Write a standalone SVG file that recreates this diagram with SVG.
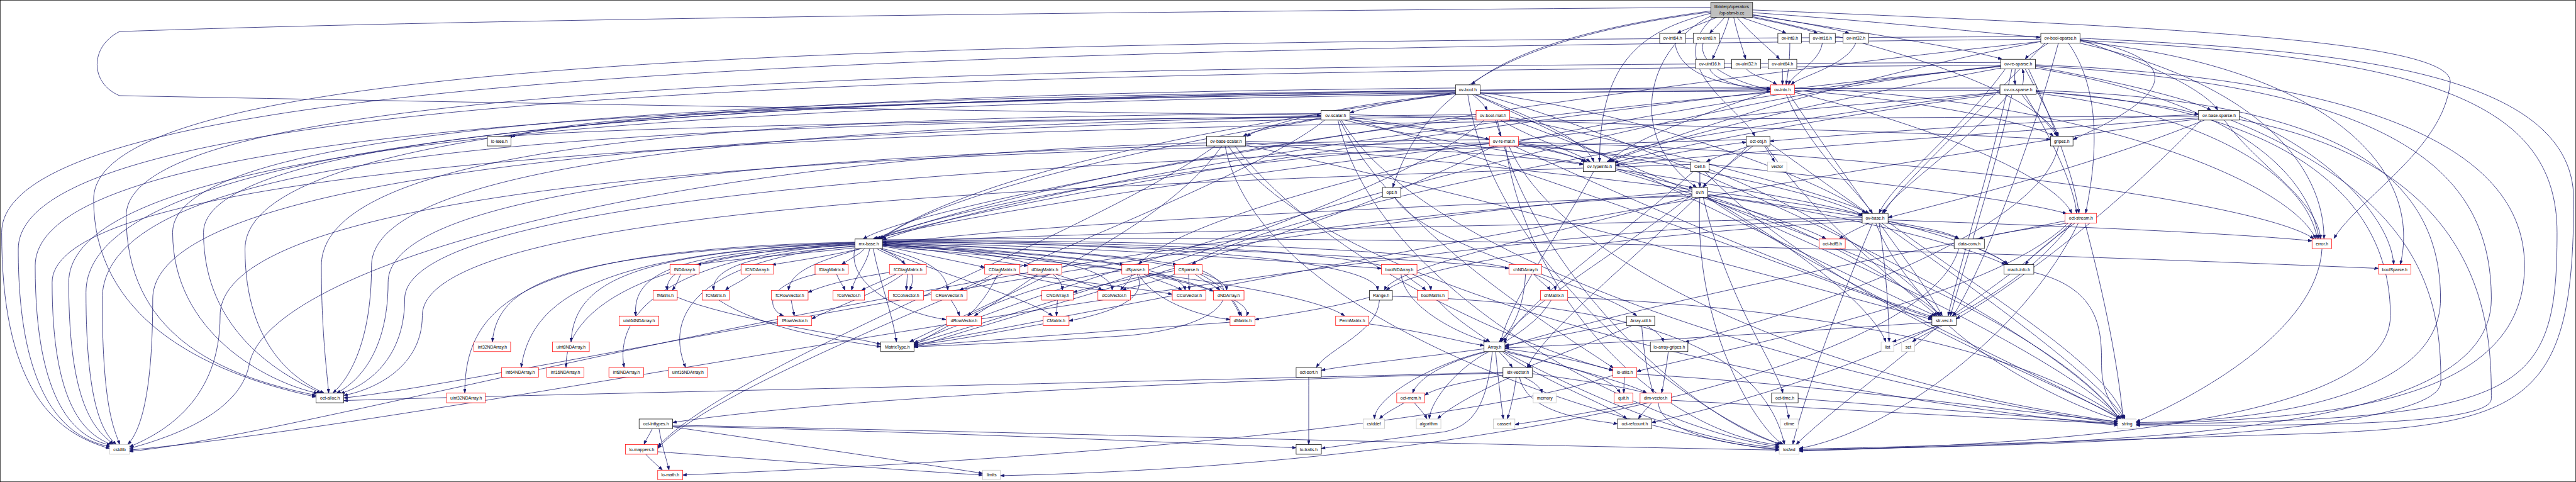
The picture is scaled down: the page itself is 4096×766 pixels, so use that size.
<svg xmlns="http://www.w3.org/2000/svg" width="4096" height="766" viewBox="0 0 4096 766">
<style>
.e path{fill:none;stroke:#191970;stroke-width:1.5;marker-end:url(#ah)}
rect{fill:#fff;stroke:#000;stroke-width:1.4}
.r rect{stroke:#f00}
.g rect{stroke:#bfbfbf}
.root rect{fill:#bfbfbf}
text{font-family:"Liberation Sans",Arial,Helvetica,sans-serif;font-size:13px;text-anchor:middle;fill:#000}
</style>
<defs>
<marker id="ah" viewBox="0 0 12 9" refX="12" refY="4.5" markerWidth="12" markerHeight="9" markerUnits="userSpaceOnUse" orient="auto"><path d="M0,0 L12,4.5 L0,9 z" fill="#191970" stroke="#191970"/></marker>
</defs>
<rect x="0" y="0" width="4096" height="766" fill="#fff" stroke="none"/>
<g transform="scale(0.5279)">
<g id="connectors" class="e">
<path d="M5172,52 C5130,70 5075,88 5052,100"/>
<path d="M5195,52 C5180,70 5160,88 5150,100"/>
<path d="M5208,52 C5195,100 5170,150 5158,178"/>
<path d="M5222,52 C5232,100 5250,150 5258,178"/>
<path d="M5232,52 C5270,100 5335,150 5360,178"/>
<path d="M5245,52 C5300,72 5355,88 5380,100"/>
<path d="M5262,50 C5360,68 5440,88 5475,100"/>
<path d="M5274,45 C5400,62 5520,85 5570,100"/>
<path d="M5279,38 C5600,60 5950,95 6145,113"/>
<path d="M5279,44 C5550,90 5900,140 6030,178"/>
<path d="M5279,50 C5800,160 6150,300 6198,410"/>
<path d="M5160,52 C5000,200 5250,330 5285,410"/>
<path d="M5153,33 C4800,80 4560,150 4432,255"/>
<path d="M5153,22 C3500,35 1500,55 360,95 C270,140 270,250 360,288 C1500,310 3000,335 3979,347"/>
<path d="M5153,40 C4950,90 4818,180 4818,487"/>
<path d="M5153,48 C4950,150 4900,420 5110,564"/>
<path d="M5153,36 C4500,120 4280,300 4195,564"/>
<path d="M5279,30 C6500,80 7400,120 7380,250 C7360,450 7100,600 7030,718"/>
<path d="M5391,129.5 C5391,190 5385,220 5380,255"/>
<path d="M5489,129.5 C5480,190 5400,220 5387,255"/>
<path d="M5590,129.5 C5560,200 5420,230 5395,255"/>
<path d="M5260,207.5 C5280,230 5330,240 5352,255"/>
<path d="M5369,207.5 C5369,225 5369,240 5369,255"/>
<path d="M5045,129.5 C5060,230 5200,260 5333,266"/>
<path d="M5130,129.5 C5110,200 5250,255 5333,270"/>
<path d="M5150,207.5 C5160,240 5250,265 5333,276"/>
<path d="M6147,118 C3000,150 5,200 5,700 C5,1150 150,1300 330,1350"/>
<path d="M6026,196 C3000,220 55,250 55,750 C55,1200 200,1320 332,1345"/>
<path d="M6024,272 C3000,280 106,300 106,800 C106,1220 230,1320 334,1340"/>
<path d="M6622,350 C4000,360 157,380 157,850 C157,1230 260,1310 338,1339"/>
<path d="M5333,270 C3000,300 207,330 207,850 C207,1250 300,1300 342,1338"/>
<path d="M4384,275 C2500,300 259,360 259,880 C259,1250 320,1310 350,1338"/>
<path d="M3979,350 C2000,380 308,420 308,900 C308,1250 350,1300 360,1338"/>
<path d="M4446,350 C2500,380 460,480 460,900 C460,1200 420,1300 385,1338"/>
<path d="M4486,430 C2500,450 663,560 663,950 C663,1200 500,1300 390,1345"/>
<path d="M3634,430 C2000,470 800,800 750,1100 C720,1250 500,1320 390,1350"/>
<path d="M5609,660 C4000,700 1500,1250 390,1355"/>
<path d="M5096,585 C3000,700 1000,1300 390,1359"/>
<path d="M6147,110 C3000,125 282,140 282,600 C282,950 600,1120 952,1195"/>
<path d="M6026,188 C3000,200 380,230 380,650 C380,1000 650,1130 952,1190"/>
<path d="M6024,265 C3200,270 520,290 520,700 C520,1000 800,1150 957,1184"/>
<path d="M5333,262 C3200,280 613,320 613,700 C613,1000 850,1130 966,1183"/>
<path d="M4384,265 C2800,280 738,330 738,750 C738,1050 900,1150 976,1183"/>
<path d="M3979,342 C2500,350 968,400 968,800 C968,1000 985,1120 990,1183"/>
<path d="M4446,345 C3000,360 1119,420 1119,800 C1119,1050 1040,1150 1003,1183"/>
<path d="M4486,420 C3000,440 1169,500 1169,850 C1169,1080 1060,1160 1014,1183"/>
<path d="M5260,420 C3500,470 1219,560 1219,900 C1219,1100 1080,1170 1026,1184"/>
<path d="M5092,495 C3500,550 1272,600 1272,950 C1272,1120 1100,1180 1035,1190"/>
<path d="M5096,575 C3500,700 1500,1150 1035,1198"/>
<path d="M4527,1121 C3000,1160 1500,1190 1035,1206"/>
<path d="M4384,278 C3000,300 1800,330 1539,412"/>
<path d="M3979,352 C3000,360 1800,385 1530,411"/>
<path d="M4384,282 C3500,400 2900,550 2650,719"/>
<path d="M3979,355 C3400,450 2800,600 2655,720"/>
<path d="M4446,355 C3600,450 2900,620 2640,719"/>
<path d="M4486,433 C3600,480 2900,620 2630,719"/>
<path d="M5333,278 C4000,400 3000,600 2658,722"/>
<path d="M6026,200 C4500,350 3000,600 2645,719"/>
<path d="M6024,278 C4500,400 3000,620 2635,719"/>
<path d="M6147,125 C4500,300 2800,600 2600,719"/>
<path d="M5609,655 C4500,680 3200,700 2658,730"/>
<path d="M5096,590 C4200,620 3000,680 2658,738"/>
<path d="M2585,745 C2400,765 2200,780 2100,797"/>
<path d="M2595,748 C2500,770 2400,785 2325,797"/>
<path d="M2605,748 C2590,765 2560,780 2535,796"/>
<path d="M2575,737 C2200,760 2000,790 2010,874"/>
<path d="M2578,742 C2300,760 2140,800 2150,874"/>
<path d="M2595,748 C2450,790 2380,820 2375,874"/>
<path d="M2620,748 C2610,800 2575,830 2565,874"/>
<path d="M2575,735 C2100,760 1900,800 1915,951"/>
<path d="M2575,730 C1700,760 1500,850 1483,1029"/>
<path d="M2575,732 C1900,760 1730,850 1720,1029"/>
<path d="M2575,731 C1800,760 1600,900 1570,1106"/>
<path d="M2575,733 C1900,770 1700,950 1705,1106"/>
<path d="M2575,736 C2000,770 1850,950 1880,1106"/>
<path d="M2578,740 C2100,780 2000,950 2065,1106"/>
<path d="M2575,729 C1600,750 1400,900 1400,1183"/>
<path d="M2630,748 C2650,850 2690,950 2700,1029"/>
<path d="M2640,748 C2680,770 2715,780 2725,796"/>
<path d="M2650,748 C2750,790 2760,830 2740,874"/>
<path d="M2655,748 C2800,780 2850,820 2855,874"/>
<path d="M2658,740 C2800,770 2900,790 2966,805"/>
<path d="M2658,738 C2900,760 3000,790 3096,800"/>
<path d="M2650,748 C2850,830 3100,900 3170,951"/>
<path d="M2575,748 C2550,850 2700,940 2849,962"/>
<path d="M2658,735 C3000,760 3200,790 3200,874"/>
<path d="M2658,736 C3100,760 3350,800 3350,874"/>
<path d="M2658,733 C3000,750 3300,780 3385,797"/>
<path d="M2658,731 C3100,745 3450,775 3545,797"/>
<path d="M2658,737 C3300,770 3560,810 3570,874"/>
<path d="M2658,734 C3300,750 3690,800 3695,874"/>
<path d="M2658,739 C3400,780 3780,880 3755,951"/>
<path d="M2658,730 C3300,740 3900,790 4161,808"/>
<path d="M2658,728 C3500,735 4300,780 4545,808"/>
<path d="M2658,726 C3600,730 4300,760 4310,874"/>
<path d="M2658,724 C3800,725 4680,760 4685,874"/>
<path d="M2658,727 C3500,735 4140,780 4150,874"/>
<path d="M2658,742 C3400,800 3950,880 4050,951"/>
<path d="M2658,722 C4500,700 6500,780 7164,808"/>
<path d="M2050,825.5 C2040,850 2035,860 2025,874"/>
<path d="M2262,825.5 C2230,850 2200,860 2185,874"/>
<path d="M2520,825.5 C2530,850 2540,860 2545,874"/>
<path d="M2460,825 C2300,860 2310,930 2360,951"/>
<path d="M2383,903.5 C2386,920 2390,935 2392,951"/>
<path d="M2733,825.5 C2732,845 2731,855 2730,874"/>
<path d="M2679,820 C2550,840 2480,860 2434,880"/>
<path d="M2700,825 C2650,850 2620,860 2595,874"/>
<path d="M2720,825 C2650,880 2500,930 2445,960"/>
<path d="M2990,825.5 C2950,850 2920,860 2890,874"/>
<path d="M3005,825.5 C2980,880 2950,920 2915,951"/>
<path d="M3060,825.5 C3150,850 3280,870 3330,875"/>
<path d="M3070,822 C3250,850 3450,870 3531,886"/>
<path d="M3125,825.5 C3050,880 2980,920 2935,951"/>
<path d="M3180,825.5 C3250,850 3300,860 3320,874"/>
<path d="M2865,903.5 C2875,920 2885,935 2890,951"/>
<path d="M3185,903.5 C3184,920 3183,935 3182,951"/>
<path d="M3410,825.5 C3400,850 3385,860 3375,874"/>
<path d="M3445,825.5 C3500,850 3540,860 3560,874"/>
<path d="M3455,822 C3550,840 3620,860 3655,877"/>
<path d="M3430,825.5 C3470,900 3600,950 3705,962"/>
<path d="M3425,825 C3460,900 3350,940 3220,966"/>
<path d="M3379,815 C3100,850 2900,950 2753,1040"/>
<path d="M3580,825.5 C3581,850 3582,860 3582,874"/>
<path d="M3600,825.5 C3630,850 3660,860 3675,874"/>
<path d="M3615,825.5 C3700,870 3720,910 3740,951"/>
<path d="M3540,825 C3480,850 3420,860 3380,874"/>
<path d="M3538,815 C3400,840 3300,860 3233,880"/>
<path d="M3621,815 C3750,870 3700,980 3400,1010 C3100,1030 2850,1040 2753,1044"/>
<path d="M3710,903.5 C3720,920 3730,935 3735,951"/>
<path d="M3705,970 C3300,1000 2900,1030 2753,1042"/>
<path d="M3142,975 C3000,1000 2850,1030 2753,1038"/>
<path d="M2040,895 C2200,960 2500,1000 2653,1036"/>
<path d="M2165,903.5 C2300,990 2500,1020 2653,1044"/>
<path d="M4125,895 C4000,930 3850,950 3780,962"/>
<path d="M4155,903.5 C4150,1000 4000,1050 3965,1106"/>
<path d="M4194,892 C4800,910 5300,1000 5375,1338"/>
<path d="M4123,975 C4300,1000 4400,1030 4470,1040"/>
<path d="M4230,825.5 C4260,850 4280,860 4295,874"/>
<path d="M4220,825.5 C4230,920 4380,1000 4480,1029"/>
<path d="M4330,903.5 C4380,960 4450,1000 4487,1029"/>
<path d="M4620,825.5 C4640,850 4660,860 4670,874"/>
<path d="M4595,825.5 C4590,920 4560,990 4515,1029"/>
<path d="M4672,903.5 C4640,960 4580,1000 4527,1033"/>
<path d="M4722,895 C5500,930 6100,1050 6390,1262"/>
<path d="M4899,970 C4750,1000 4620,1025 4533,1040"/>
<path d="M4915,980.5 C4800,1030 4660,1080 4600,1106"/>
<path d="M4960,980.5 C4990,1000 5005,1010 5010,1029"/>
<path d="M4945,980.5 C4950,1050 4960,1120 4980,1183"/>
<path d="M5025,1058.5 C5020,1100 5012,1150 5005,1183"/>
<path d="M6200,439.5 C6150,700 5400,950 5075,1030"/>
<path d="M4200,593.5 C4300,750 4800,850 4930,951"/>
<path d="M4470,1050 C4250,1080 4050,1100 3980,1115"/>
<path d="M4515,1058.5 C4530,1075 4545,1090 4555,1106"/>
<path d="M4480,1058.5 C4350,1090 4270,1140 4255,1183"/>
<path d="M4475,1058 C4300,1100 4140,1200 4140,1261"/>
<path d="M4485,1058.5 C4400,1100 4310,1200 4305,1261"/>
<path d="M4505,1058.5 C4510,1120 4520,1200 4528,1261"/>
<path d="M4533,1050 C4700,1070 4800,1100 4860,1115"/>
<path d="M4530,1058 C4700,1100 4850,1130 4880,1183"/>
<path d="M4533,1055 C4700,1100 4900,1150 4960,1183"/>
<path d="M4525,1058.5 C4650,1150 4850,1220 4900,1261"/>
<path d="M4495,1058.5 C4480,1200 4450,1280 4350,1300 C4200,1320 4050,1340 3980,1350"/>
<path d="M4533,1060 C4800,1200 5100,1330 5359,1348"/>
<path d="M4527,1130 C4400,1150 4320,1170 4291,1190"/>
<path d="M4550,1135.5 C4450,1180 4360,1230 4330,1261"/>
<path d="M4567,1135.5 C4560,1190 4550,1230 4540,1261"/>
<path d="M4590,1135.5 C4620,1150 4640,1165 4645,1183"/>
<path d="M4616,1125 C4800,1150 4920,1170 4960,1185"/>
<path d="M4577,1135.5 C4600,1250 4800,1265 4872,1276"/>
<path d="M4527,1123 C3500,1150 2500,1200 2026,1272"/>
<path d="M4893,1135.5 C4892,1150 4891,1165 4891,1183"/>
<path d="M4930,1126 C5500,1160 6000,1230 6379,1270"/>
<path d="M4975,1212.5 C4960,1230 4945,1245 4935,1261"/>
<path d="M4950,1210 C4800,1240 4650,1265 4563,1278"/>
<path d="M4995,1212.5 C5000,1300 5200,1340 5359,1352"/>
<path d="M5034,1205 C5500,1230 6000,1260 6379,1275"/>
<path d="M4230,1212.5 C4200,1230 4170,1245 4155,1261"/>
<path d="M4260,1212.5 C4275,1230 4290,1245 4298,1261"/>
<path d="M3942,1135.5 C3942,1200 3942,1280 3942,1338"/>
<path d="M1965,1290.5 C1955,1310 1945,1325 1940,1338"/>
<path d="M1985,1290.5 C1995,1350 2010,1390 2015,1415"/>
<path d="M2026,1285 C2400,1340 2800,1400 2960,1425"/>
<path d="M2026,1280 C3000,1300 4500,1340 5359,1355"/>
<path d="M2026,1283 C2800,1300 3500,1330 3904,1348"/>
<path d="M1945,1367.5 C1960,1385 1980,1400 1995,1415"/>
<path d="M1981,1360 C2400,1390 2700,1415 2960,1430"/>
<path d="M4858,1130 C4500,1250 3500,1370 2056,1430"/>
<path d="M5900,748.5 C5800,1100 4500,1400 3013,1432"/>
<path d="M4435,284.5 C4455,300 4470,315 4480,332"/>
<path d="M4384,278 C4250,300 4120,320 4066,340"/>
<path d="M4384,282 C4000,320 3800,380 3755,411"/>
<path d="M4445,284.5 C4600,350 4780,420 4800,487"/>
<path d="M4458,278 C5000,350 5500,550 5620,642"/>
<path d="M4440,284 C4700,400 5500,800 5830,951"/>
<path d="M4458,282 C5200,500 6200,1000 6385,1262"/>
<path d="M4421,284.5 C4500,800 5100,1250 5365,1338"/>
<path d="M4066,352 C4250,380 4420,400 4486,420"/>
<path d="M3990,355 C3850,380 3770,395 3745,410"/>
<path d="M4066,360 C4400,400 4700,450 4780,487"/>
<path d="M4050,361.5 C4400,450 5300,560 5615,648"/>
<path d="M4066,345 C5000,380 5900,400 6176,420"/>
<path d="M3990,361.5 C3700,600 2200,1100 1981,1350"/>
<path d="M4035,361.5 C4200,700 4700,1000 4860,1108"/>
<path d="M4066,358 C4600,500 5500,850 5820,958"/>
<path d="M4040,361.5 C4300,800 5500,1150 6380,1275"/>
<path d="M4030,361.5 C4150,900 5000,1300 5360,1345"/>
<path d="M4505,361.5 C4510,380 4515,395 4520,410"/>
<path d="M4547,352 C5000,450 5500,580 5630,642"/>
<path d="M4520,361.5 C4620,420 4750,460 4790,487"/>
<path d="M4470,361.5 C4200,600 3200,900 2753,1035"/>
<path d="M4547,358 C5200,600 6200,1050 6388,1262"/>
<path d="M4510,361.5 C4600,800 5100,1270 5368,1338"/>
<path d="M4574,432 C4680,450 4740,470 4775,487"/>
<path d="M4574,430 C5000,480 5500,580 5615,650"/>
<path d="M4500,439.5 C4000,700 3200,900 2753,1046"/>
<path d="M4560,439.5 C4900,600 5500,850 5825,955"/>
<path d="M4574,428 C5600,450 6800,600 6970,719"/>
<path d="M4574,435 C5200,500 6000,580 6225,643"/>
<path d="M4545,439.5 C4700,800 5500,1150 6380,1270"/>
<path d="M4535,439.5 C4600,900 5000,1300 5360,1340"/>
<path d="M3752,430 C4300,480 5300,580 5610,648"/>
<path d="M3752,425 C4200,440 4600,470 4769,495"/>
<path d="M3680,439.5 C3500,700 3000,900 2740,1029"/>
<path d="M3660,439.5 C3300,700 2200,1100 1981,1345"/>
<path d="M3720,439.5 C4000,800 4600,1050 4858,1115"/>
<path d="M3752,437 C4500,600 5400,850 5820,962"/>
<path d="M3700,439.5 C4000,900 5500,1200 6380,1280"/>
<path d="M3690,439.5 C3800,1000 5000,1320 5360,1355"/>
<path d="M4866,508 C4950,530 5050,555 5100,566"/>
<path d="M4866,495 C5000,470 5150,440 5260,428"/>
<path d="M4800,516.5 C4700,700 4550,900 4520,1029"/>
<path d="M4866,512 C5500,700 6200,1000 6385,1262"/>
<path d="M5120,516.5 C5120,530 5120,545 5120,564"/>
<path d="M5100,516.5 C4900,700 4600,900 4530,1029"/>
<path d="M5148,510 C5500,650 5780,850 5840,951"/>
<path d="M5135,516.5 C5500,900 6200,1150 6390,1262"/>
<path d="M5315,439.5 C5325,455 5335,470 5345,487"/>
<path d="M5270,439.5 C5210,460 5160,475 5140,487"/>
<path d="M5280,439.5 C5200,500 5150,540 5130,564"/>
<path d="M5320,439.5 C5500,700 5780,900 5835,951"/>
<path d="M5265,439.5 C5000,700 4600,900 4522,1029"/>
<path d="M5331,432 C5700,700 6300,1100 6400,1261"/>
<path d="M5096,590 C4700,700 4200,800 4170,874"/>
<path d="M5110,593.5 C4900,800 4650,1000 4600,1106"/>
<path d="M5144,590 C5500,700 5800,900 5845,951"/>
<path d="M5130,593.5 C5200,900 5350,1100 5370,1183"/>
<path d="M5144,585 C5500,640 5850,680 5900,719"/>
<path d="M5144,588 C5600,650 5950,750 6040,797"/>
<path d="M5135,593.5 C5300,640 5450,690 5500,719"/>
<path d="M5140,593.5 C5600,900 6200,1150 6385,1262"/>
<path d="M5120,593.5 C5100,1000 5300,1300 5372,1338"/>
<path d="M5144,593 C5500,800 5650,950 5680,1029"/>
<path d="M5609,665 C5000,700 4300,780 4175,874"/>
<path d="M5680,671.5 C5800,690 5870,705 5900,719"/>
<path d="M5630,671.5 C5590,690 5560,705 5540,719"/>
<path d="M5650,671.5 C5700,800 5800,900 5845,951"/>
<path d="M5687,662 C6200,680 6700,700 6964,725"/>
<path d="M5660,671.5 C5680,800 5690,950 5690,1029"/>
<path d="M5687,668 C6000,900 6350,1100 6400,1261"/>
<path d="M5640,671.5 C5500,1000 5420,1250 5400,1338"/>
<path d="M5687,666 C5900,720 6000,760 6050,797"/>
<path d="M6230,671.5 C6100,690 6000,705 5960,719"/>
<path d="M6250,671.5 C6180,720 6120,770 6100,797"/>
<path d="M6240,671.5 C6100,800 5950,900 5880,951"/>
<path d="M6220,665 C5800,750 5000,900 4533,1044"/>
<path d="M6230,671.5 C6000,900 5200,1050 4930,1118"/>
<path d="M6240,671.5 C6000,1000 5300,1200 4975,1272"/>
<path d="M6280,671.5 C6340,900 6380,1100 6395,1261"/>
<path d="M6260,671.5 C6100,1000 5700,1300 5419,1350"/>
<path d="M5960,748.5 C6000,765 6030,780 6045,796"/>
<path d="M6126,820 C6330,870 6330,1000 6330,1100 C6330,1200 6380,1240 6395,1261"/>
<path d="M5840,980.5 C5780,1000 5730,1020 5700,1029"/>
<path d="M5850,980.5 C5810,1000 5780,1015 5760,1029"/>
<path d="M5870,980.5 C6000,1100 6250,1230 6385,1265"/>
<path d="M5840,980.5 C5700,1100 5500,1250 5410,1338"/>
<path d="M5819,970 C5400,1000 4900,1030 4533,1048"/>
<path d="M5378,1212.5 C5382,1230 5386,1245 5388,1261"/>
<path d="M5416,1200 C5800,1230 6200,1260 6379,1276"/>
<path d="M6994,748.5 C6980,1000 6600,1200 6434,1270"/>
<path d="M6700,361.5 C6800,500 6980,600 6990,719"/>
<path d="M6745,350 C7000,450 7200,650 7210,796"/>
<path d="M6630,361.5 C6300,700 6000,900 5892,960"/>
<path d="M6622,345 C6200,360 5600,400 5331,425"/>
<path d="M6640,361.5 C6300,500 5900,600 5687,655"/>
<path d="M6622,355 C6000,400 5200,460 4866,498"/>
<path d="M6622,358 C5500,500 3500,900 2753,1038"/>
<path d="M6745,360 C7500,500 7504,1000 7504,1200 C7504,1290 6800,1280 6434,1280"/>
<path d="M6720,361.5 C7300,600 7352,900 7352,1150 C7352,1320 6000,1345 5419,1353"/>
<path d="M6070,207.5 C6068,225 6068,240 6070,255"/>
<path d="M6092,255.5 C6096,240 6096,225 6092,208"/>
<path d="M6131,200 C6400,250 6600,300 6660,332"/>
<path d="M6133,275 C6400,300 6550,320 6622,345"/>
<path d="M6265,120 C6500,200 6650,280 6680,332"/>
<path d="M6170,129.5 C6140,150 6110,165 6100,178"/>
<path d="M6265,125 C7000,200 7300,500 7230,796"/>
<path d="M6026,200 C5000,300 3600,600 3430,796"/>
<path d="M6024,278 C5000,400 3800,650 3590,796"/>
<path d="M6100,207.5 C6150,300 6190,380 6200,410"/>
<path d="M6090,284.5 C6120,330 6180,380 6195,410"/>
<path d="M6265,118 C6700,200 6400,350 6244,420"/>
<path d="M6040,207.5 C5900,400 5700,550 5660,642"/>
<path d="M6050,284.5 C5900,450 5700,580 5670,642"/>
<path d="M6160,129.5 C5900,400 5700,580 5675,642"/>
<path d="M6026,205 C5500,300 5000,420 4850,487"/>
<path d="M6024,282 C5500,350 5000,450 4862,490"/>
<path d="M6147,125 C5500,250 5000,420 4840,487"/>
<path d="M6110,207.5 C6200,400 6250,550 6262,642"/>
<path d="M6100,284.5 C6200,450 6250,580 6255,642"/>
<path d="M6230,129.5 C6350,300 6300,550 6282,642"/>
<path d="M6131,205 C6700,300 6950,500 6985,719"/>
<path d="M6133,280 C6700,350 6950,550 6980,719"/>
<path d="M6265,130 C6800,250 7000,500 7000,719"/>
<path d="M6060,207.5 C6000,500 5900,800 5868,951"/>
<path d="M6060,284.5 C6000,550 5900,850 5875,951"/>
<path d="M6200,129.5 C6100,500 5950,850 5882,951"/>
<path d="M6026,198 C5000,300 3300,800 2753,1032"/>
<path d="M6265,115 C7000,150 7752,200 7752,600 C7752,1250 7600,1290 6800,1310 C6200,1330 5600,1350 5419,1352"/>
<path d="M6265,122 C7300,170 7702,300 7702,700 C7702,1200 7600,1260 6434,1278"/>
<path d="M6131,195 C7000,230 7604,400 7604,800 C7604,1220 7000,1260 6434,1276"/>
<path d="M6131,198 C7200,260 7504,500 7504,900 C7504,1300 6500,1330 5419,1356"/>
<path d="M6133,272 C7000,300 7351,500 7351,900 C7351,1200 6800,1270 6434,1272"/>
<path d="M6133,276 C6900,320 7200,600 7200,950 C7200,1300 6000,1340 5419,1358"/>
<path d="M5380,284.5 C5450,450 5600,580 5640,642"/>
<path d="M5333,275 C5100,350 4900,430 4845,487"/>
<path d="M5405,272 C5800,300 6150,380 6185,410"/>
<path d="M5390,284.5 C5600,600 5800,850 5850,951"/>
<path d="M5405,265 C6300,300 6900,550 6975,719"/>
<path d="M5405,278 C5900,400 6200,550 6240,642"/>
</g>
<g id="nodes">
<g id="n_root" class="root"><rect x="5153" y="7" width="126" height="45"/><text x="5216" y="25">libinterp/operators</text><text x="5216" y="43">/op-sbm-b.cc</text></g>
<g id="n_ov_int64"><rect x="4999" y="100.5" width="78" height="29"/><text x="5038" y="119.5">ov-int64.h</text></g>
<g id="n_ov_uint8"><rect x="5100" y="100.5" width="79" height="29"/><text x="5140" y="119.5">ov-uint8.h</text></g>
<g id="n_ov_int8"><rect x="5355" y="100.5" width="71" height="29"/><text x="5391" y="119.5">ov-int8.h</text></g>
<g id="n_ov_int16"><rect x="5450" y="100.5" width="78" height="29"/><text x="5489" y="119.5">ov-int16.h</text></g>
<g id="n_ov_int32"><rect x="5551" y="100.5" width="78" height="29"/><text x="5590" y="119.5">ov-int32.h</text></g>
<g id="n_ov_bool_sparse"><rect x="6147" y="100.5" width="118" height="29"/><text x="6206" y="119.5">ov-bool-sparse.h</text></g>
<g id="n_ov_uint16"><rect x="5107" y="178.5" width="86" height="29"/><text x="5150" y="197.5">ov-uint16.h</text></g>
<g id="n_ov_uint32"><rect x="5216" y="178.5" width="87" height="29"/><text x="5260" y="197.5">ov-uint32.h</text></g>
<g id="n_ov_uint64"><rect x="5326" y="178.5" width="86" height="29"/><text x="5369" y="197.5">ov-uint64.h</text></g>
<g id="n_ov_re_sparse"><rect x="6026" y="178.5" width="105" height="29"/><text x="6079" y="197.5">ov-re-sparse.h</text></g>
<g id="n_ov_bool"><rect x="4384" y="255.5" width="74" height="29"/><text x="4421" y="274.5">ov-bool.h</text></g>
<g id="n_ov_intx" class="r"><rect x="5333" y="255.5" width="72" height="29"/><text x="5369" y="274.5">ov-intx.h</text></g>
<g id="n_ov_cx_sparse"><rect x="6024" y="255.5" width="109" height="29"/><text x="6079" y="274.5">ov-cx-sparse.h</text></g>
<g id="n_ov_scalar"><rect x="3979" y="332.5" width="87" height="29"/><text x="4023" y="351.5">ov-scalar.h</text></g>
<g id="n_ov_bool_mat" class="r"><rect x="4446" y="332.5" width="101" height="29"/><text x="4497" y="351.5">ov-bool-mat.h</text></g>
<g id="n_ov_base_sparse"><rect x="6622" y="332.5" width="123" height="29"/><text x="6684" y="351.5">ov-base-sparse.h</text></g>
<g id="n_lo_ieee"><rect x="1468" y="410.5" width="71" height="29"/><text x="1504" y="429.5">lo-ieee.h</text></g>
<g id="n_ov_base_scalar"><rect x="3634" y="410.5" width="118" height="29"/><text x="3693" y="429.5">ov-base-scalar.h</text></g>
<g id="n_ov_re_mat" class="r"><rect x="4486" y="410.5" width="88" height="29"/><text x="4530" y="429.5">ov-re-mat.h</text></g>
<g id="n_oct_obj"><rect x="5260" y="410.5" width="71" height="29"/><text x="5296" y="429.5">oct-obj.h</text></g>
<g id="n_gripes"><rect x="6176" y="410.5" width="68" height="29"/><text x="6210" y="429.5">gripes.h</text></g>
<g id="n_ov_typeinfo"><rect x="4769" y="487.5" width="97" height="29"/><text x="4818" y="506.5">ov-typeinfo.h</text></g>
<g id="n_Cell"><rect x="5092" y="487.5" width="56" height="29"/><text x="5120" y="506.5">Cell.h</text></g>
<g id="n_vector" class="g"><rect x="5324" y="487.5" width="58" height="29"/><text x="5353" y="506.5">vector</text></g>
<g id="n_ops"><rect x="4164" y="564.5" width="55" height="29"/><text x="4192" y="583.5">ops.h</text></g>
<g id="n_ov"><rect x="5096" y="564.5" width="48" height="29"/><text x="5120" y="583.5">ov.h</text></g>
<g id="n_ov_base"><rect x="5609" y="642.5" width="78" height="29"/><text x="5648" y="661.5">ov-base.h</text></g>
<g id="n_oct_stream" class="r"><rect x="6220" y="642.5" width="95" height="29"/><text x="6268" y="661.5">oct-stream.h</text></g>
<g id="n_mx_base"><rect x="2575" y="719.5" width="83" height="29"/><text x="2617" y="738.5">mx-base.h</text></g>
<g id="n_oct_hdf5" class="r"><rect x="5479" y="719.5" width="79" height="29"/><text x="5519" y="738.5">oct-hdf5.h</text></g>
<g id="n_data_conv"><rect x="5886" y="719.5" width="91" height="29"/><text x="5932" y="738.5">data-conv.h</text></g>
<g id="n_error" class="r"><rect x="6964" y="719.5" width="59" height="29"/><text x="6994" y="738.5">error.h</text></g>
<g id="n_fNDArray" class="r"><rect x="2018" y="796.5" width="88" height="29"/><text x="2062" y="815.5">fNDArray.h</text></g>
<g id="n_fCNDArray" class="r"><rect x="2232" y="796.5" width="98" height="29"/><text x="2281" y="815.5">fCNDArray.h</text></g>
<g id="n_fDiagMatrix" class="r"><rect x="2455" y="796.5" width="100" height="29"/><text x="2505" y="815.5">fDiagMatrix.h</text></g>
<g id="n_fCDiagMatrix" class="r"><rect x="2679" y="796.5" width="111" height="29"/><text x="2735" y="815.5">fCDiagMatrix.h</text></g>
<g id="n_CDiagMatrix" class="r"><rect x="2966" y="796.5" width="106" height="29"/><text x="3019" y="815.5">CDiagMatrix.h</text></g>
<g id="n_dDiagMatrix" class="r"><rect x="3096" y="796.5" width="102" height="29"/><text x="3147" y="815.5">dDiagMatrix.h</text></g>
<g id="n_dSparse" class="r"><rect x="3379" y="796.5" width="81" height="29"/><text x="3420" y="815.5">dSparse.h</text></g>
<g id="n_CSparse" class="r"><rect x="3538" y="796.5" width="83" height="29"/><text x="3580" y="815.5">CSparse.h</text></g>
<g id="n_boolNDArray" class="r"><rect x="4161" y="796.5" width="107" height="29"/><text x="4215" y="815.5">boolNDArray.h</text></g>
<g id="n_chNDArray" class="r"><rect x="4545" y="796.5" width="99" height="29"/><text x="4595" y="815.5">chNDArray.h</text></g>
<g id="n_mach_info"><rect x="6036" y="796.5" width="90" height="29"/><text x="6081" y="815.5">mach-info.h</text></g>
<g id="n_boolSparse" class="r"><rect x="7164" y="796.5" width="98" height="29"/><text x="7213" y="815.5">boolSparse.h</text></g>
<g id="n_fMatrix" class="r"><rect x="1967" y="874.5" width="73" height="29"/><text x="2004" y="893.5">fMatrix.h</text></g>
<g id="n_fCMatrix" class="r"><rect x="2115" y="874.5" width="82" height="29"/><text x="2156" y="893.5">fCMatrix.h</text></g>
<g id="n_fCRowVector" class="r"><rect x="2323" y="874.5" width="111" height="29"/><text x="2379" y="893.5">fCRowVector.h</text></g>
<g id="n_fColVector" class="r"><rect x="2509" y="874.5" width="95" height="29"/><text x="2557" y="893.5">fColVector.h</text></g>
<g id="n_fCColVector" class="r"><rect x="2676" y="874.5" width="106" height="29"/><text x="2729" y="893.5">fCColVector.h</text></g>
<g id="n_CRowVector" class="r"><rect x="2805" y="874.5" width="108" height="29"/><text x="2859" y="893.5">CRowVector.h</text></g>
<g id="n_CNDArray" class="r"><rect x="3138" y="874.5" width="95" height="29"/><text x="3186" y="893.5">CNDArray.h</text></g>
<g id="n_dColVector" class="r"><rect x="3307" y="874.5" width="98" height="29"/><text x="3356" y="893.5">dColVector.h</text></g>
<g id="n_CColVector" class="r"><rect x="3531" y="874.5" width="101" height="29"/><text x="3582" y="893.5">CColVector.h</text></g>
<g id="n_dNDArray" class="r"><rect x="3655" y="874.5" width="92" height="29"/><text x="3701" y="893.5">dNDArray.h</text></g>
<g id="n_Range"><rect x="4125" y="874.5" width="69" height="29"/><text x="4160" y="893.5">Range.h</text></g>
<g id="n_boolMatrix" class="r"><rect x="4269" y="874.5" width="93" height="29"/><text x="4316" y="893.5">boolMatrix.h</text></g>
<g id="n_chMatrix" class="r"><rect x="4640" y="874.5" width="82" height="29"/><text x="4681" y="893.5">chMatrix.h</text></g>
<g id="n_uint64NDArray" class="r"><rect x="1865" y="951.5" width="119" height="29"/><text x="1925" y="970.5">uint64NDArray.h</text></g>
<g id="n_fRowVector" class="r"><rect x="2342" y="951.5" width="103" height="29"/><text x="2394" y="970.5">fRowVector.h</text></g>
<g id="n_dRowVector" class="r"><rect x="2851" y="951.5" width="105" height="29"/><text x="2904" y="970.5">dRowVector.h</text></g>
<g id="n_CMatrix" class="r"><rect x="3142" y="951.5" width="78" height="29"/><text x="3181" y="970.5">CMatrix.h</text></g>
<g id="n_dMatrix" class="r"><rect x="3705" y="951.5" width="75" height="29"/><text x="3743" y="970.5">dMatrix.h</text></g>
<g id="n_PermMatrix" class="r"><rect x="4023" y="951.5" width="100" height="29"/><text x="4073" y="970.5">PermMatrix.h</text></g>
<g id="n_Array_util"><rect x="4899" y="951.5" width="85" height="29"/><text x="4942" y="970.5">Array-util.h</text></g>
<g id="n_str_vec"><rect x="5819" y="951.5" width="73" height="29"/><text x="5856" y="970.5">str-vec.h</text></g>
<g id="n_int32NDArray" class="r"><rect x="1427" y="1029.5" width="111" height="29"/><text x="1483" y="1048.5">int32NDArray.h</text></g>
<g id="n_uint8NDArray" class="r"><rect x="1664" y="1029.5" width="111" height="29"/><text x="1720" y="1048.5">uint8NDArray.h</text></g>
<g id="n_MatrixType"><rect x="2653" y="1029.5" width="100" height="29"/><text x="2703" y="1048.5">MatrixType.h</text></g>
<g id="n_Array"><rect x="4470" y="1029.5" width="63" height="29"/><text x="4502" y="1048.5">Array.h</text></g>
<g id="n_lo_array_gripes"><rect x="4971" y="1029.5" width="113" height="29"/><text x="5028" y="1048.5">lo-array-gripes.h</text></g>
<g id="n_list" class="g"><rect x="5666" y="1029.5" width="38" height="29"/><text x="5685" y="1048.5">list</text></g>
<g id="n_set" class="g"><rect x="5728" y="1029.5" width="39" height="29"/><text x="5748" y="1048.5">set</text></g>
<g id="n_int64NDArray" class="r"><rect x="1511" y="1106.5" width="111" height="29"/><text x="1567" y="1125.5">int64NDArray.h</text></g>
<g id="n_int16NDArray" class="r"><rect x="1647" y="1106.5" width="112" height="29"/><text x="1703" y="1125.5">int16NDArray.h</text></g>
<g id="n_int8NDArray" class="r"><rect x="1834" y="1106.5" width="105" height="29"/><text x="1887" y="1125.5">int8NDArray.h</text></g>
<g id="n_uint16NDArray" class="r"><rect x="2013" y="1106.5" width="118" height="29"/><text x="2072" y="1125.5">uint16NDArray.h</text></g>
<g id="n_oct_sort"><rect x="3904" y="1106.5" width="76" height="29"/><text x="3942" y="1125.5">oct-sort.h</text></g>
<g id="n_idx_vector"><rect x="4527" y="1106.5" width="89" height="29"/><text x="4572" y="1125.5">idx-vector.h</text></g>
<g id="n_lo_utils" class="r"><rect x="4858" y="1106.5" width="72" height="29"/><text x="4894" y="1125.5">lo-utils.h</text></g>
<g id="n_uint32NDArray" class="r"><rect x="1345" y="1183.5" width="117" height="29"/><text x="1404" y="1202.5">uint32NDArray.h</text></g>
<g id="n_oct_alloc"><rect x="952" y="1183.5" width="83" height="29"/><text x="994" y="1202.5">oct-alloc.h</text></g>
<g id="n_oct_mem" class="r"><rect x="4207" y="1183.5" width="84" height="29"/><text x="4249" y="1202.5">oct-mem.h</text></g>
<g id="n_memory" class="g"><rect x="4618" y="1183.5" width="69" height="29"/><text x="4653" y="1202.5">memory</text></g>
<g id="n_quit" class="r"><rect x="4862" y="1183.5" width="56" height="29"/><text x="4890" y="1202.5">quit.h</text></g>
<g id="n_dim_vector" class="r"><rect x="4940" y="1183.5" width="94" height="29"/><text x="4987" y="1202.5">dim-vector.h</text></g>
<g id="n_oct_time"><rect x="5336" y="1183.5" width="80" height="29"/><text x="5376" y="1202.5">oct-time.h</text></g>
<g id="n_oct_inttypes"><rect x="1925" y="1261.5" width="101" height="29"/><text x="1976" y="1280.5">oct-inttypes.h</text></g>
<g id="n_cstddef" class="g"><rect x="4106" y="1261.5" width="64" height="29"/><text x="4138" y="1280.5">cstddef</text></g>
<g id="n_algorithm" class="g"><rect x="4266" y="1261.5" width="74" height="29"/><text x="4303" y="1280.5">algorithm</text></g>
<g id="n_cassert" class="g"><rect x="4498" y="1261.5" width="65" height="29"/><text x="4531" y="1280.5">cassert</text></g>
<g id="n_oct_refcount"><rect x="4872" y="1261.5" width="103" height="29"/><text x="4924" y="1280.5">oct-refcount.h</text></g>
<g id="n_ctime" class="g"><rect x="5362" y="1261.5" width="54" height="29"/><text x="5389" y="1280.5">ctime</text></g>
<g id="n_string" class="g"><rect x="6379" y="1261.5" width="55" height="29"/><text x="6407" y="1280.5">string</text></g>
<g id="n_cstdlib" class="g"><rect x="330" y="1338.5" width="60" height="29"/><text x="360" y="1357.5">cstdlib</text></g>
<g id="n_lo_mappers" class="r"><rect x="1884" y="1338.5" width="97" height="29"/><text x="1933" y="1357.5">lo-mappers.h</text></g>
<g id="n_lo_traits"><rect x="3904" y="1338.5" width="76" height="29"/><text x="3942" y="1357.5">lo-traits.h</text></g>
<g id="n_iosfwd" class="g"><rect x="5359" y="1338.5" width="60" height="29"/><text x="5389" y="1357.5">iosfwd</text></g>
<g id="n_lo_math" class="r"><rect x="1981" y="1415.5" width="75" height="29"/><text x="2019" y="1434.5">lo-math.h</text></g>
<g id="n_limits" class="g"><rect x="2960" y="1415.5" width="53" height="29"/><text x="2987" y="1434.5">limits</text></g>
</g>
</g>
</svg>
